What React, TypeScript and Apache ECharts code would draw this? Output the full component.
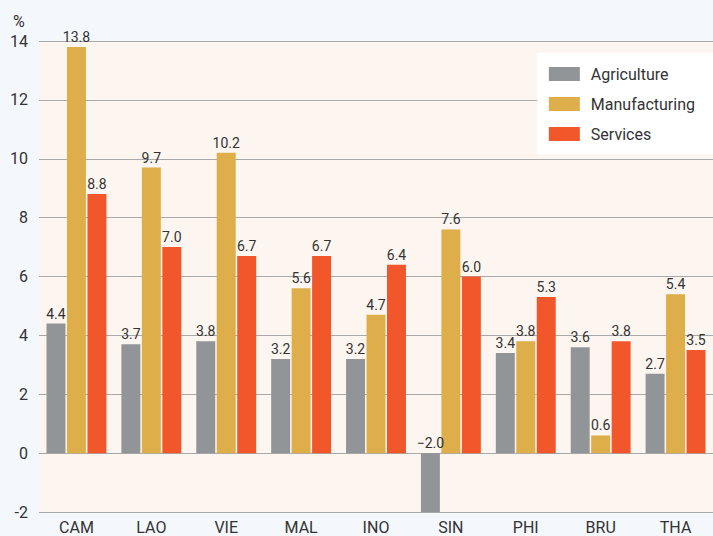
import React, { useEffect, useRef } from "react";
import * as echarts from "echarts";

const categories = ["CAM", "LAO", "VIE", "MAL", "INO", "SIN", "PHI", "BRU", "THA"];
const agriculture = [4.4, 3.7, 3.8, 3.2, 3.2, -2.0, 3.4, 3.6, 2.7];
const manufacturing = [13.8, 9.7, 10.2, 5.6, 4.7, 7.6, 3.8, 0.6, 5.4];
const services = [8.8, 7.0, 6.7, 6.7, 6.4, 6.0, 5.3, 3.8, 3.5];
const yTicks = { min: -2, max: 14, interval: 2 };

const FONT = "Roboto, 'Liberation Sans', sans-serif";

const fmt = (v: number) => (v < 0 ? "\u2212" + Math.abs(v).toFixed(1) : v.toFixed(1));

export default function App() {
  const ref = useRef<HTMLDivElement>(null);
  useEffect(() => {
    document.body.style.margin = "0";
    const chart = echarts.init(ref.current!, null, { renderer: "svg" });
    const label = {
      show: true,
      position: "top" as const,
      distance: 3,
      color: "#333",
      fontSize: 14,
      fontFamily: FONT,
      formatter: (p: any) => fmt(p.value),
    };
    const mk = (name: string, data: number[], color: string) => ({
      name,
      type: "bar",
      data,
      barGap: "8%",
      barCategoryGap: "20%",
      itemStyle: { color },
      label,
    });
    chart.setOption({
      animation: false,
      backgroundColor: "#f4f8fc",
      textStyle: { fontFamily: FONT },
      grid: {
        left: 39,
        right: 0,
        top: 41,
        bottom: 24,
        show: true,
        backgroundColor: "#fdf5ef",
        borderWidth: 0,
      },
      legend: {
        orient: "vertical",
        right: 0,
        top: 53,
        backgroundColor: "#ffffff",
        padding: [13, 18, 12, 12],
        itemWidth: 31,
        itemHeight: 14,
        itemGap: 14,
        icon: "rect",
        textStyle: { fontSize: 16, color: "#333", fontFamily: FONT, padding: [0, 0, 0, 6] },
        data: ["Agriculture", "Manufacturing", "Services"],
      },
      graphic: [
        {
          type: "text",
          left: 13,
          top: 13,
          style: { text: "%", fontSize: 16, fill: "#333", fontFamily: FONT },
        },
      ],
      xAxis: {
        type: "category",
        data: categories,
        axisLine: { show: false },
        axisTick: { show: false },
        axisLabel: { fontSize: 16, color: "#333", margin: 7, fontFamily: FONT },
      },
      yAxis: {
        type: "value",
        min: yTicks.min,
        max: yTicks.max,
        interval: yTicks.interval,
        axisLine: { show: false },
        axisTick: { show: false },
        axisLabel: { fontSize: 16, color: "#333", margin: 11, fontFamily: FONT },
        splitLine: { lineStyle: { color: "#a9a9a9", width: 1.2 } },
      },
      series: [
        mk("Agriculture", agriculture, "#929598"),
        mk("Manufacturing", manufacturing, "#ddae49"),
        mk("Services", services, "#f1572b"),
      ],
    });
    return () => chart.dispose();
  }, []);
  return <div ref={ref} style={{ width: 713, height: 536 }} />;
}
